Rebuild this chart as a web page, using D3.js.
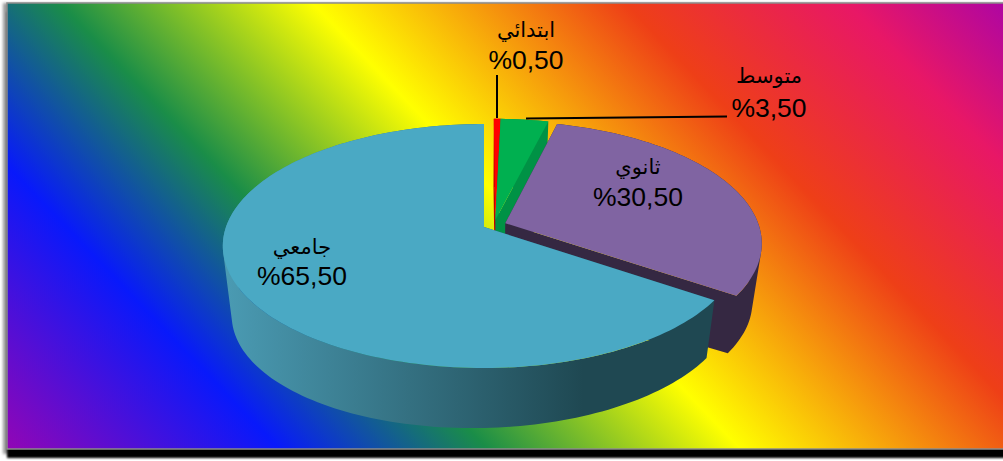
<!DOCTYPE html>
<html>
<head>
<meta charset="utf-8">
<script src="https://cdn.jsdelivr.net/npm/d3@7"></script>
<style>
    html, body { margin: 0; padding: 0; background: #fff; overflow: hidden; }
    svg { display: block; }
    text { font-family: "Liberation Sans", "DejaVu Sans", sans-serif; fill: #000; text-anchor: middle; }
</style>
</head>
<body>
<div id="chart"></div>
<script>
// Chart values, clockwise from 12 o'clock
const categories = ["ابتدائي", "متوسط", "ثانوي", "جامعي"];
const percents = [0.5, 3.5, 30.5, 65.5];
const percentLabels = ["%0,50", "%3,50", "%30,50", "%65,50"];

const topColors = ["#ff0000", "#00b050", "#8064a2", "#4aa9c4"];
const wallColors = ["#c00000", "#009245", "#352842", "#1f4852"];

// Office "rainbow" preset used for the panel fill
const bgOffsets = [0, 0.21, 0.35, 0.52, 0.73, 0.88, 1];
const bgColors = ["#a603ab", "#0819fb", "#1a8d48", "#ffff00", "#ee3f17", "#e81766", "#a603ab"];

const width = 1003;
const height = 461;
const panel = { x: 7, y: 3, w: 997, h: 446 };

// Perspective set-up for the tilted disc
const cx = 484, cy = 227;
const R = 258, S = 119, k = 0.156;
const rightSquash = 0.985;
const shrink = 0.966, vanishY = 2133, depthTilt = 0.02;

// Slice pulled out of the pie, in disc units (u right, v to the viewer)
const explode = [[0.045, -0.06], [0.045, -0.06], [0.084, -0.032], [0, 0]];

// Label centres and leader lines
const labelPos = [[526, 30, 60], [769, 76, 108], [638, 167, 197], [302, 247, 276]];
const leaders = [[[497, 75], [497, 118]], [[526, 118.5], [727, 116.5]]];

const svg = d3.select("#chart").append("svg")
    .attr("width", width)
    .attr("height", height);

const defs = svg.append("defs");

const blur1 = defs.append("filter").attr("id", "blurTight")
    .attr("x", "-5%").attr("y", "-5%").attr("width", "110%").attr("height", "110%");
blur1.append("feGaussianBlur").attr("stdDeviation", 1.2);
const blur2 = defs.append("filter").attr("id", "blurWide")
    .attr("x", "-5%").attr("y", "-5%").attr("width", "110%").attr("height", "110%");
blur2.append("feGaussianBlur").attr("stdDeviation", 1.8);

const bg = defs.append("linearGradient").attr("id", "rainbow")
    .attr("gradientUnits", "userSpaceOnUse")
    .attr("x1", -13.9).attr("y1", 469.1)
    .attr("x2", 760.6).attr("y2", -274.3);
bg.selectAll("stop").data(bgOffsets).join("stop")
    .attr("offset", d => d)
    .attr("stop-color", (d, i) => bgColors[i]);

const wallShade = defs.append("linearGradient").attr("id", "blueWall")
    .attr("gradientUnits", "userSpaceOnUse")
    .attr("x1", 228).attr("y1", 0).attr("x2", 715).attr("y2", 0);
wallShade.append("stop").attr("offset", 0).attr("stop-color", "#4a9ab2");
wallShade.append("stop").attr("offset", 0.73).attr("stop-color", "#1f4852");
wallShade.append("stop").attr("offset", 1).attr("stop-color", "#1f4852");

// Panel and its shadow
svg.append("rect")
    .attr("x", 3).attr("y", 3).attr("width", width).attr("height", 451)
    .attr("fill", "#999").attr("filter", "url(#blurWide)");
svg.append("rect")
    .attr("x", 7).attr("y", 12).attr("width", width).attr("height", 446)
    .attr("fill", "#000").attr("filter", "url(#blurTight)");
svg.append("rect")
    .attr("x", panel.x).attr("y", panel.y)
    .attr("width", panel.w).attr("height", panel.h)
    .attr("fill", "url(#rainbow)")
    .attr("stroke", "#8c8c8c")
    .attr("stroke-width", 1.5);

// Disc coordinates to screen, top surface and bottom surface
function topPoint(u, v) {
    const w = 1 - k * v;
    const rx = u > 0 ? R * rightSquash : R;
    return [cx + rx * u / w, cy + S * v / w];
}
function lowPoint(p) {
    const depth = (1 - shrink) * (vanishY - p[1]) - depthTilt * (p[0] - cx);
    return [cx + shrink * (p[0] - cx), p[1] + depth];
}

const pieData = d3.pie().sort(null).value(d => d)(percents);

function rimPoints(d, i) {
    const [eu, ev] = explode[i];
    const count = Math.max(4, Math.ceil((d.endAngle - d.startAngle) * 40));
    return d3.range(count + 1).map(n => {
        const a = d.startAngle + (d.endAngle - d.startAngle) * n / count;
        return topPoint(Math.sin(a) + eu, -Math.cos(a) + ev);
    });
}

const line = d3.line();
function closed(points) { return line(points) + "Z"; }

// wall strip from a to b, wound the same way every time so one path fills without seams
function wallQuad(a, b) {
    const quad = [a, b, lowPoint(b), lowPoint(a)];
    return closed(d3.polygonArea(quad) < 0 ? quad.reverse() : quad);
}

const slices = svg.append("g").selectAll("g")
    .data(pieData)
    .join("g");

slices.each(function (d, i) {
    const g = d3.select(this);
    const rim = rimPoints(d, i);
    const apex = topPoint(explode[i][0], explode[i][1]);

    // both cut faces and the outer rim, then the top
    const wallPath = [wallQuad(apex, rim[0]), wallQuad(apex, rim[rim.length - 1])]
        .concat(rim.slice(1).map((p, n) => wallQuad(rim[n], p)))
        .join("");
    g.append("path")
        .attr("d", wallPath)
        .attr("fill", i === 3 ? "url(#blueWall)" : wallColors[i]);
    g.append("path")
        .attr("d", closed([apex].concat(rim)))
        .attr("fill", topColors[i]);
});

// Leader lines
svg.append("g").selectAll("path")
    .data(leaders)
    .join("path")
    .attr("d", d => line(d))
    .attr("fill", "none")
    .attr("stroke", "#000")
    .attr("stroke-width", 2);

// Labels
const labels = svg.append("g").selectAll("g")
    .data(categories)
    .join("g");
labels.append("text")
    .attr("x", (d, i) => labelPos[i][0])
    .attr("y", (d, i) => labelPos[i][1])
    .attr("dy", "0.35em")
    .attr("font-size", 21)
    .text(d => d);
labels.append("text")
    .attr("x", (d, i) => labelPos[i][0])
    .attr("y", (d, i) => labelPos[i][2])
    .attr("dy", "0.35em")
    .attr("font-size", 26.5)
    .text((d, i) => percentLabels[i]);
</script>
</body>
</html>
